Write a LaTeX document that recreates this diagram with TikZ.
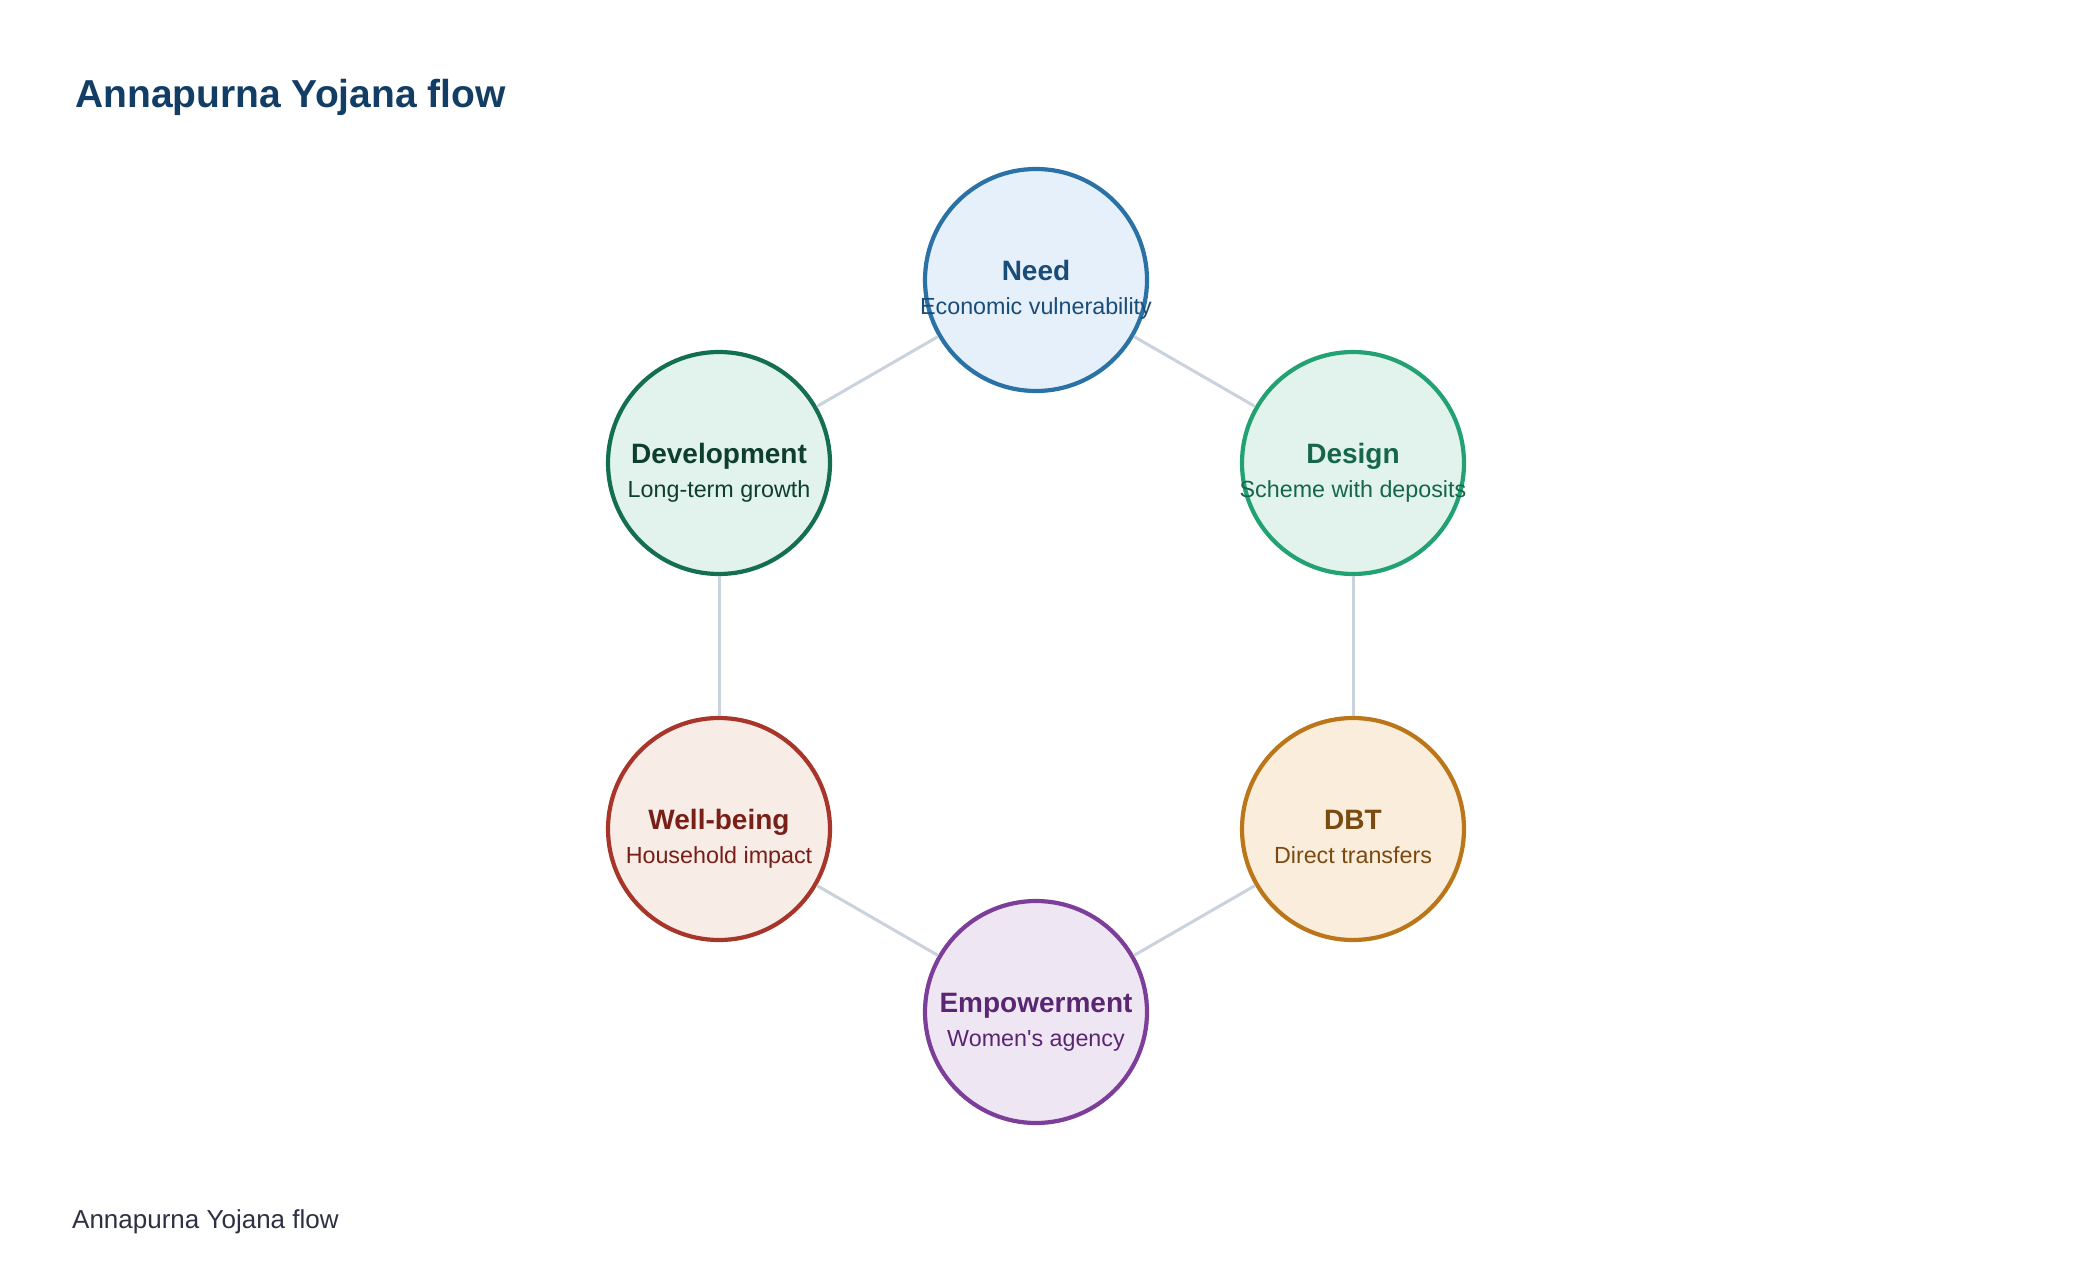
\documentclass[tikz,border=0pt]{standalone}
\usepackage{fontspec}
\setmainfont{Liberation Sans}
\definecolor{edgec}{HTML}{CAD2DC}
\definecolor{titlec}{HTML}{123E66}
\definecolor{footc}{HTML}{2E3142}
\definecolor{needS}{HTML}{2A72A6}\definecolor{needF}{HTML}{E6F0FA}\definecolor{needT}{HTML}{1A4C78}
\definecolor{devS}{HTML}{146E52}\definecolor{devF}{HTML}{E1F3EC}\definecolor{devT}{HTML}{0E3E2E}
\definecolor{desS}{HTML}{22A173}\definecolor{desF}{HTML}{E1F3EC}\definecolor{desT}{HTML}{15664A}
\definecolor{wellS}{HTML}{A8352A}\definecolor{wellF}{HTML}{F8ECE6}\definecolor{wellT}{HTML}{781F17}
\definecolor{dbtS}{HTML}{BA7619}\definecolor{dbtF}{HTML}{FAEDDB}\definecolor{dbtT}{HTML}{7A4A10}
\definecolor{empS}{HTML}{7C3E99}\definecolor{empF}{HTML}{EFE6F4}\definecolor{empT}{HTML}{5A2672}
\tikzset{
  bubble/.style={circle, minimum size=222pt, inner sep=0pt, line width=4.2pt},
  head/.style={anchor=base, inner sep=0pt, font=\fontsize{28}{32}\selectfont\bfseries},
  sub/.style={anchor=base, inner sep=0pt, font=\fontsize{23.3}{27}\selectfont},
  link/.style={draw=edgec, line width=3pt}
}
\begin{document}
\begin{tikzpicture}[x=1pt,y=-1pt]
\useasboundingbox[fill=white] (0,0) rectangle (2080,1284);
\node[anchor=base west, inner sep=0pt, text=titlec, font=\fontsize{39}{44}\selectfont\bfseries] (title) at (75,108) {Annapurna Yojana flow};
\node[anchor=base west, inner sep=0pt, text=footc, font=\fontsize{26}{30}\selectfont] (foot) at (72,1228) {Annapurna Yojana flow};

\node[bubble, draw=needS, fill=needF] (need) at (1036,280) {};
\node[bubble, draw=desS, fill=desF] (design) at (1353,463) {};
\node[bubble, draw=dbtS, fill=dbtF] (dbt) at (1353,829) {};
\node[bubble, draw=empS, fill=empF] (emp) at (1036,1012) {};
\node[bubble, draw=wellS, fill=wellF] (well) at (719,829) {};
\node[bubble, draw=devS, fill=devF] (dev) at (719,463) {};

\draw[link] (need) -- (design);
\draw[link] (design) -- (dbt);
\draw[link] (dbt) -- (emp);
\draw[link] (emp) -- (well);
\draw[link] (well) -- (dev);
\draw[link] (dev) -- (need);

\node[head, text=needT] (needh) at (1036,280) {Need};
\node[sub, text=needT] (needs) at (1036,314) {Economic vulnerability};
\node[head, text=desT] (desh) at (1353,463) {Design};
\node[sub, text=desT] (dess) at (1353,497) {Scheme with deposits};
\node[head, text=dbtT] (dbth) at (1353,829) {DBT};
\node[sub, text=dbtT] (dbts) at (1353,863) {Direct transfers};
\node[head, text=empT] (emph) at (1036,1012) {Empowerment};
\node[sub, text=empT] (emps) at (1036,1046) {Women\textquotesingle s agency};
\node[head, text=wellT] (wellh) at (719,829) {Well-being};
\node[sub, text=wellT] (wells) at (719,863) {Household impact};
\node[head, text=devT] (devh) at (719,463) {Development};
\node[sub, text=devT] (devs) at (719,497) {Long-term growth};
\end{tikzpicture}
\end{document}
